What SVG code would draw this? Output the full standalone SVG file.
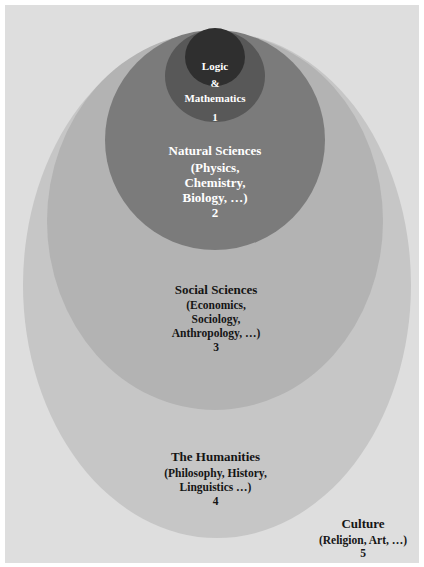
<svg xmlns="http://www.w3.org/2000/svg" width="424" height="567" viewBox="0 0 424 567">
<style>
text{font-family:"Liberation Serif","Times New Roman",serif;font-weight:bold;text-anchor:middle}
.w{fill:#ffffff}
.k{fill:#151515}
.t{font-size:13px}
.s{font-size:11.5px}
.m{font-size:11px}
</style>
<rect x="0" y="0" width="424" height="567" fill="#ffffff"/>
<rect x="5" y="5" width="414" height="558" fill="#dedede"/>
<g id="culture">
<text class="k t" x="363" y="528">Culture</text>
<text class="k s" x="363" y="544">(Religion, Art, …)</text>
<text class="k s" x="363" y="557">5</text>
</g>
<g id="humanities">
<ellipse cx="217" cy="285" rx="194" ry="253" fill="#c6c6c6"/>
<text class="k t" x="215.5" y="461">The Humanities</text>
<text class="k s" x="215.5" y="477">(Philosophy, History,</text>
<text class="k s" x="215.5" y="491">Linguistics …)</text>
<text class="k s" x="215.5" y="505">4</text>
</g>
<g id="social">
<ellipse cx="215" cy="221" rx="168" ry="189" fill="#b3b3b3"/>
<text class="k t" x="216" y="294">Social Sciences</text>
<text class="k s" x="216" y="309">(Economics,</text>
<text class="k s" x="216" y="323">Sociology,</text>
<text class="k s" x="216" y="337">Anthropology, …)</text>
<text class="k s" x="216" y="351">3</text>
</g>
<g id="natural">
<ellipse cx="215" cy="140" rx="110" ry="110" fill="#7b7b7b"/>
<text class="w t" x="215" y="155">Natural Sciences</text>
<text class="w t" x="215" y="172">(Physics,</text>
<text class="w t" x="215" y="187">Chemistry,</text>
<text class="w t" x="215" y="202">Biology, …)</text>
<text class="w t" x="215" y="217">2</text>
</g>
<g id="logic-ring">
<ellipse cx="215" cy="76" rx="50" ry="46" fill="#585858"/>
</g>
<g id="logic">
<ellipse cx="215" cy="57" rx="30" ry="29" fill="#2f2f2f"/>
<text class="w m" x="215" y="70">Logic</text>
<text class="w m" x="215" y="87">&amp;</text>
<text class="w m" x="215" y="102">Mathematics</text>
<text class="w m" x="215" y="121">1</text>
</g>
</svg>
